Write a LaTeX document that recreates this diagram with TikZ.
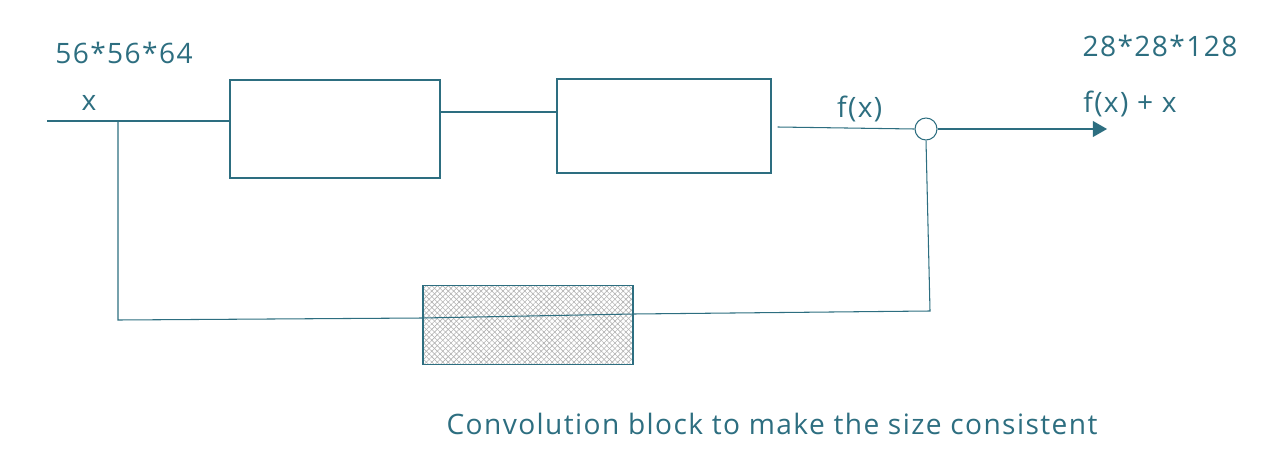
\documentclass[tikz,border=0pt]{standalone}
\usepackage{fontspec}
\setmainfont{Open Sans}[LetterSpace=5]
\usetikzlibrary{patterns.meta,arrows.meta}
\definecolor{ink}{RGB}{45,110,128}
\tikzset{
  blk/.style={draw=ink,semithick,minimum width=210*0.02cm,minimum height=98*0.02cm,inner sep=0pt},
  lbl/.style={text=ink,font=\fontsize{16}{19}\selectfont},
}
\begin{document}
\begin{tikzpicture}[x=0.02cm,y=-0.02cm,ink,semithick]
    \useasboundingbox(0,0)rectangle(1280,466);
    \node[blk](b1)at(335,129){};%1つ目のブロック
    \node[blk,minimum width=214*0.02cm,minimum height=94*0.02cm](b2)at(664,126){};%2つ目のブロック
    \node[draw=ink,circle,minimum size=22*0.02cm,inner sep=0pt](add)at(926,129){};%加算
    \node[blk,minimum height=79*0.02cm,
      pattern={Lines[angle=45,distance=2.2pt,line width=0.35pt]},pattern color=gray!60,
      ](conv)at(528,325){};%畳み込みブロック
    \coordinate(in)at(47,121);
    \coordinate(sp)at(118,121);
    \coordinate(out)at(1107,129);
    \path[pattern={Lines[angle=-45,distance=2.2pt,line width=0.35pt]},pattern color=gray!60](conv.south west)rectangle(conv.north east);
    \draw(in)--(b1.west|-in);%入力
    \draw(b1.east|-0,112)--(b2.west|-0,112);
    \draw([xshift=6*0.02cm]b2.east|-0,127)--(add.west)node[pos=0.6,above,lbl]{f(x)};
    \draw[-{Triangle[length=8pt,width=9pt]}](add.east)--(out);%出力
    \draw(sp)--(118,320)--(conv.west|-0,318)--(conv.east|-0,314)--(930,311)--(add.south);%スキップ接続
    \node[draw=ink,semithick,minimum width=210*0.02cm,minimum height=79*0.02cm](convb)at(conv){};
    \node[lbl](xl)at(89,103){x};
    \node[lbl](s1)at(124,53){56*56*64};
    \node[lbl](s2)at(1160,46){28*28*128};
    \node[lbl](fx)at(1130,104){f(x) + x};
    \node[lbl](cap)at(772,424){Convolution block to make the size consistent};
\end{tikzpicture}
\end{document}
